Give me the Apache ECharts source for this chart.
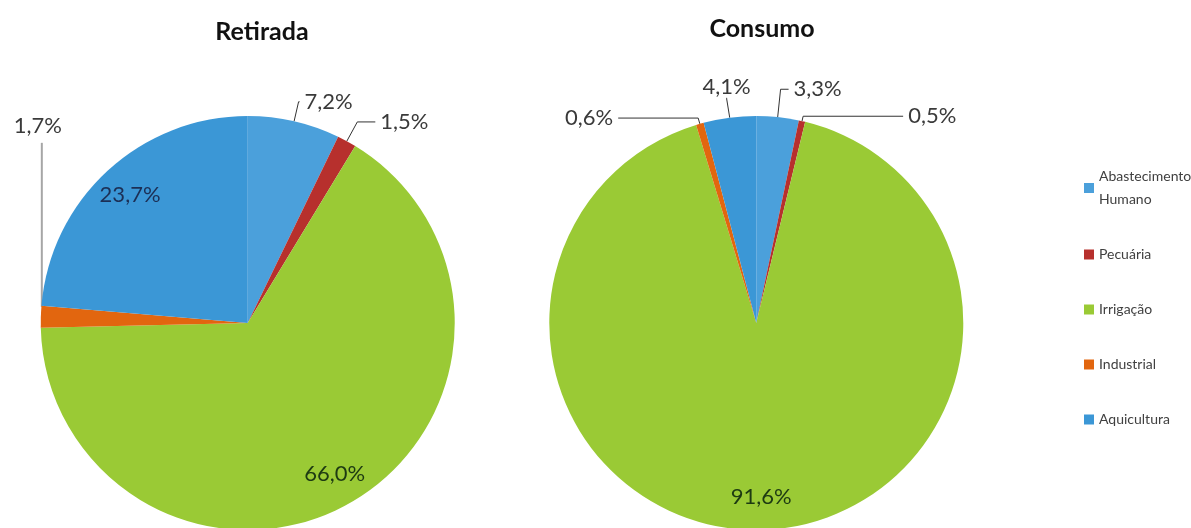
<!DOCTYPE html>
<html><head><meta charset="utf-8">
<script src="https://cdn.jsdelivr.net/npm/echarts@6/dist/echarts.min.js"></script>
<style>html,body{margin:0;padding:0;background:#fff}#c{width:1191px;height:528px}</style>
</head><body><div id="c"></div>
<script>
const categories = ['Abastecimento Humano', 'Pecuária', 'Irrigação', 'Industrial', 'Aquicultura'];
const retirada = [7.2, 1.5, 66.0, 1.7, 23.7];
const consumo = [3.3, 0.5, 91.6, 0.6, 4.1];
const titles = ['Retirada', 'Consumo'];

const colors = ['#4ba0db', '#b7302d', '#9aca35', '#e2660f', '#3b97d6'];
const FONT = 'Lato';
const fmt = v => v.toFixed(1).replace('.', ',') + '%';

const centers = [['20.8%', 323], ['63.5%', 323]];
const R = 207;

// label styling per pie: inside labels, leader lengths, special placements
const pieStyles = [
  {inside: [2, 4], lines: {0: [20, 1], 1: [22, 18], 3: [1, 1]}, above: [], vertical: {3: 174}},
  {inside: [2], lines: {0: [28, 8], 1: [5, 100], 3: [6, 80], 4: [16, 1]}, above: [4], vertical: {}}
];

function outerSeries(vals, ci) {
  const st = pieStyles[ci];
  return {
    type: 'pie', center: centers[ci], radius: [0, R], startAngle: 90, clockwise: true,
    avoidLabelOverlap: false, silent: true, animation: false,
    label: {show: true, position: 'outside', fontFamily: FONT, fontSize: 22, color: '#3a3a3a', distance: 3, formatter: p => fmt(p.value)},
    labelLine: {show: true, lineStyle: {color: '#333', width: 1}, smooth: false},
    labelLayout: function (p) {
      const pts = p.labelLinePoints;
      if (!pts) return {};
      if (st.vertical[p.dataIndex] !== undefined) {
        const a = pts[0], top = a[1] - st.vertical[p.dataIndex];
        return {x: a[0] - 3, y: top - 6, align: 'center', verticalAlign: 'bottom',
                labelLinePoints: [[a[0] + 1, a[1] - 10], [a[0] + 1, top], [a[0] + 1, top]]};
      }
      if (st.above.includes(p.dataIndex)) {
        const e = pts[pts.length - 1];
        return {x: e[0], y: e[1] - 4, align: 'center', verticalAlign: 'bottom'};
      }
      return {};
    },
    data: vals.map((v, i) => {
      const d = {name: categories[i], value: v, itemStyle: {color: colors[i]}};
      if (st.inside.includes(i)) { d.label = {show: false}; d.labelLine = {show: false}; }
      else {
        d.labelLine = {length: st.lines[i][0], length2: st.lines[i][1]};
        if (st.vertical[i] !== undefined) d.labelLine.lineStyle = {color: '#a6a6a6', width: 2};
      }
      return d;
    })
  };
}
function innerLabelSeries(vals, ci) {
  const st = pieStyles[ci];
  return {
    type: 'pie', center: centers[ci], radius: [R * 0.65, R], startAngle: 90, clockwise: true,
    silent: true, animation: false, legendHoverLink: false, avoidLabelOverlap: false,
    label: {show: true, position: 'inside', fontFamily: FONT, fontSize: 22, formatter: p => fmt(p.value)},
    labelLine: {show: false},
    itemStyle: {color: 'rgba(0,0,0,0)', borderWidth: 0},
    data: vals.map((v, i) => ({
      name: categories[i], value: v,
      label: {show: st.inside.includes(i), color: i === 2 ? '#1d3a12' : '#1c2f55'}
    }))
  };
}

const chart = echarts.init(document.getElementById('c'), null, {renderer: 'canvas'});
chart.setOption({
  backgroundColor: '#fff',
  title: [
    {text: titles[0], left: 257, top: 14, textAlign: 'center', textStyle: {fontFamily: FONT, fontSize: 25, fontWeight: 'bold', color: '#111'}},
    {text: titles[1], left: 757, top: 11, textAlign: 'center', textStyle: {fontFamily: FONT, fontSize: 25, fontWeight: 'bold', color: '#111'}}
  ],
  legend: {
    orient: 'vertical', left: 1084, top: 165, padding: 0, itemWidth: 10, itemHeight: 10, itemGap: 32, icon: 'rect',
    selectedMode: false,
    data: categories.map((c, i) => ({name: c, itemStyle: {color: colors[i]}})),
    formatter: n => n === 'Abastecimento Humano' ? 'Abastecimento\nHumano' : n,
    textStyle: {fontFamily: FONT, fontSize: 14, color: '#404040', lineHeight: 23}
  },
  series: [
    outerSeries(retirada, 0),
    outerSeries(consumo, 1),
    innerLabelSeries(retirada, 0),
    innerLabelSeries(consumo, 1)
  ]
});
</script></body></html>
